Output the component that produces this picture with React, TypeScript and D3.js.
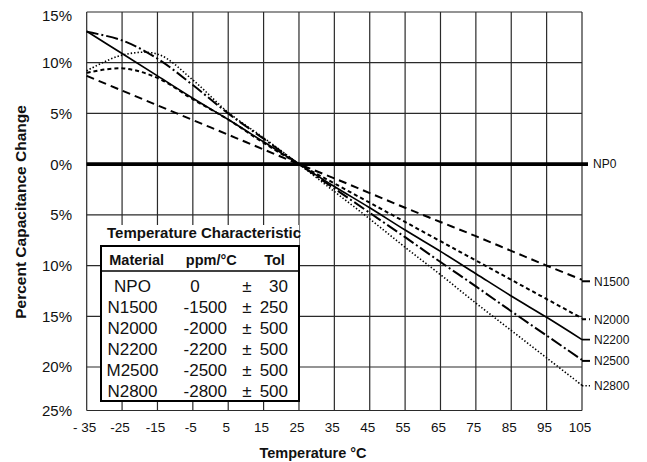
import React from 'react';
import * as d3 from 'd3';

// temperature steps (°C)
const temps = [-35, -25, -15, -5, 5, 15, 25, 35, 45, 55, 65, 75, 85, 95, 105];
const xTickLabels = ['- 35', '-25', '-15', '-5', '5', '15', '25', '35', '45', '55', '65', '75', '85', '95', '105'];

// percent capacitance change
const n1500 = [8.7, 7.25, 5.8, 4.35, 2.9, 1.45, 0, -1.4, -2.85, -4.3, -5.7, -7.1, -8.55, -10, -11.4];
const n2000 = [9.0, 9.45, 8.5, 6.4, 4.4, 2.1, 0, -1.9, -3.8, -5.7, -7.6, -9.5, -11.4, -13.3, -15.2];
const n2200 = [13.1, 10.9, 8.7, 6.5, 4.4, 2.2, 0, -2.2, -4.3, -6.5, -8.6, -10.8, -13.0, -15.1, -17.3];
const n2500 = [13.05, 12.2, 10.4, 7.8, 5.0, 2.5, 0, -2.4, -4.8, -7.2, -9.65, -12.05, -14.5, -16.9, -19.3];
const n2800 = [9.2, 10.75, 10.85, 8.3, 5.1, 2.6, 0, -2.7, -5.4, -8.2, -10.9, -13.7, -16.4, -19.1, -22.1];
const seriesNames = ['N1500', 'N2000', 'N2200', 'N2500', 'N2800'];
const seriesValues = [n1500, n2000, n2200, n2500, n2800];

const yTicks = [15, 10, 5, 0, -5, -10, -15, -20, -25];
const yTickLabels = ['15%', '10%', '5%', '0%', '5%', '10%', '15%', '20%', '25%'];

const tableTitle = 'Temperature Characteristic';
const tableHeaders = ['Material', 'ppm/°C', 'Tol'];
const materials = ['NPO', 'N1500', 'N2000', 'N2200', 'M2500', 'N2800'];
const ppm = [0, -1500, -2000, -2200, -2500, -2800];
const tol = [30, 250, 500, 500, 500, 500];

const W = 647;
const H = 462;
const font = '"Liberation Sans", Arial, Helvetica, sans-serif';

// line styles per series
const styles = [
  { dash: '8,5', width: 2, dy: 1.5 },
  { dash: '4,3', width: 2, dy: 1 },
  { dash: null, width: 1.7, dy: 0 },
  { dash: '12,3,2,3', width: 2, dy: 1 },
  { dash: '1.4,2', width: 1.6, dy: 0.5 },
];

const App = () => {
  const x = d3.scaleLinear().domain([-35, 105]).range([86.7, 582]);
  // the bottom band of the original is a little compressed
  const y = d3.scaleLinear().domain([15, -20, -25]).range([12, 367, 410.5]);

  const line = d3
    .line<number>()
    .x((_, i) => x(temps[i]))
    .y((d) => y(d))
    .curve(d3.curveCatmullRom.alpha(0.5));

  const x0 = x(-35);
  const x1 = x(105);
  const gridColor = '#2a2a2a';

  return (
    <svg width={W} height={H} style={{ position: 'absolute', left: 0, top: 0, background: '#fff' }} fontFamily={font}>
      <rect width={W} height={H} fill="#fff" />

      {/* grid */}
      {temps.map((t) => (
        <line key={'vx' + t} x1={x(t)} x2={x(t)} y1={y(15)} y2={y(-25)} stroke={gridColor} strokeWidth={1.2} />
      ))}
      {yTicks.map((v) => (
        <line key={'hy' + v} x1={x0} x2={x1} y1={y(v)} y2={y(v)} stroke={gridColor} strokeWidth={1.2} />
      ))}

      {/* y tick labels */}
      {yTicks.map((v, i) => (
        <text key={'yl' + v} x={72} y={y(v) + (i === 0 ? 4 : 0)} dy="0.36em" textAnchor="end" fontSize={15} fill="#111">
          {yTickLabels[i]}
        </text>
      ))}

      {/* x tick labels */}
      {temps.map((t, i) => (
        <text key={'xl' + t} x={x(t) - 2} y={432} textAnchor="middle" fontSize={13.5} fill="#111">
          {xTickLabels[i]}
        </text>
      ))}

      {/* axis titles */}
      <text x={313} y={458} textAnchor="middle" fontSize={14.5} fontWeight="bold" fill="#111">
        Temperature °C
      </text>
      <text
        transform={`translate(26, 212) rotate(-90)`}
        textAnchor="middle"
        fontSize={15.5}
        fontWeight="bold"
        fill="#111"
      >
        Percent Capacitance Change
      </text>

      {/* NP0 zero line */}
      <line x1={x0} x2={x1 + 6} y1={y(0)} y2={y(0)} stroke="#000" strokeWidth={3.8} />
      <text x={593} y={y(0)} dy="0.36em" fontSize={12} fill="#111">
        NP0
      </text>

      {/* series */}
      {seriesValues.map((vals, i) => {
        const s = styles[i];
        const ly = y(vals[vals.length - 1]) + s.dy;
        return (
          <g key={seriesNames[i]}>
            <path
              d={line(vals) || ''}
              fill="none"
              stroke="#000"
              strokeWidth={s.width}
              strokeDasharray={s.dash || undefined}
            />
            <line
              x1={x1}
              x2={x1 + 8}
              y1={ly}
              y2={ly}
              stroke="#000"
              strokeWidth={s.width}
              strokeDasharray={s.dash || undefined}
            />
            <text x={594} y={ly} dy="0.36em" fontSize={12} fill="#111">
              {seriesNames[i]}
            </text>
          </g>
        );
      })}

      {/* legend table */}
      <rect x={88} y={225} width={211} height={21} fill="#fff" />
      <text x={204} y={237.5} textAnchor="middle" fontSize={15} fontWeight="bold" fill="#111">
        {tableTitle}
      </text>
      <rect x={101} y={246} width={198} height={155} fill="#fff" stroke="#000" strokeWidth={2} />
      <line x1={101} x2={299} y1={271} y2={271} stroke="#000" strokeWidth={1.5} />
      {tableHeaders.map((h, i) => (
        <text key={h} x={[136.7, 211.3, 274.5][i]} y={264.5} textAnchor="middle" fontSize={14.5} fontWeight="bold" fill="#111">
          {h}
        </text>
      ))}
      {materials.map((m, i) => {
        const by = 292 + i * 21;
        return (
          <g key={m} fontSize={17} fill="#111">
            <text x={132.5} y={by} textAnchor="middle">
              {m}
            </text>
            {ppm[i] === 0 ? (
              <text x={195} y={by} textAnchor="middle">
                {ppm[i]}
              </text>
            ) : (
              <text x={227} y={by} textAnchor="end">
                {ppm[i]}
              </text>
            )}
            <text x={247} y={by} textAnchor="middle">
              ±
            </text>
            <text x={288} y={by} textAnchor="end">
              {tol[i]}
            </text>
          </g>
        );
      })}
    </svg>
  );
};

export default App;
